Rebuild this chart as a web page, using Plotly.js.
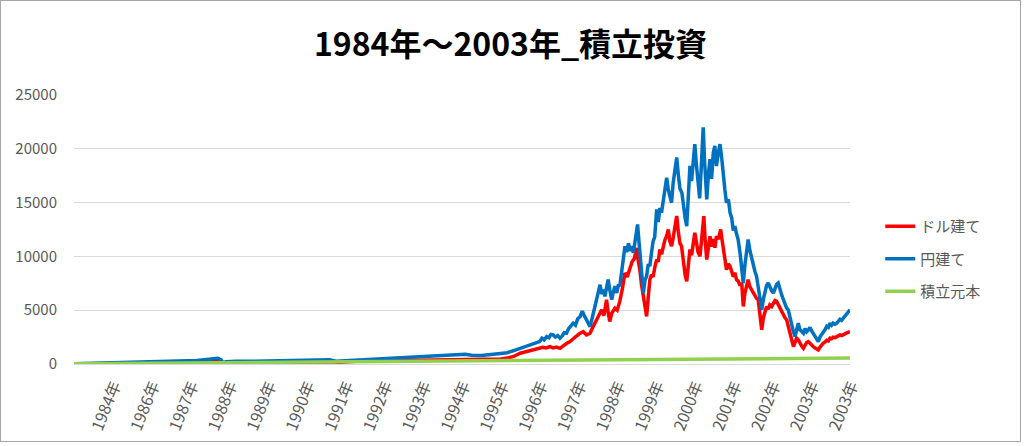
<!DOCTYPE html>
<html>
<head>
<meta charset="utf-8">
<script src="https://cdn.plot.ly/plotly-3.0.1.min.js"></script>
<style>
html,body{margin:0;padding:0;background:#fff;}
#frame{position:absolute;left:0;top:0;width:1019px;height:440px;border:1px solid #a6a6a6;}
#chart{width:1019px;height:440px;}
</style>
</head>
<body>
<div id="frame"><div id="chart"></div></div>
<script>
// tick labels (category axis labels shown every ~12 months)
const tickMonths = [12,24,36,48,60,72,84,96,108,120,132,144,156,168,180,192,204,216,228,240];
const tickLabels = ['1984年','1986年','1987年','1988年','1989年','1990年','1991年','1992年','1993年','1994年',
  '1995年','1996年','1997年','1998年','1999年','2000年','2001年','2002年','2003年','2003年'];

// 円建て (yen): [month index, value]
const yenSeries = [[0,20],[6,60],[12,110],[18,190],[21,230],[26,220],[30,260],[35,290],[38,330],[41,420],[43,500],[44.5,540],[45.5,380],[46,120],[47,200],[50,260],[55,250],[60,280],[62,340],[66,360],[68,400],[72,420],[76,380],[79,400],[81,250],[83,280],[86,380],[90,430],[94,480],[98,550],[102,570],[106,620],[110,700],[114,740],[118,790],[121,900],[123,820],[126,780],[129,880],[132,950],[134,1050],[136,1250],[138,1450],[140,1600],[142,1850],
[144,2080],[144.7,2400],[145.4,2250],[146.2,2550],[146.9,2450],[147.5,2750],[148.2,2700],[148.9,2500],[149.6,2650],[150.3,2400],[151,2600],[151.6,2900],[152.3,2860],[153,3300],[153.7,3500],[154.4,3790],[155.1,3600],[155.8,4200],[156.5,4400],[157.2,4900],[157.8,4500],[158.5,4100],[159.1,3600],[159.6,3480],[160.3,4300],[161.1,5350],[161.8,6100],[162.3,6900],[162.7,7370],[163.2,6500],[163.7,6900],[164.2,6280],[164.7,7300],[165.2,7840],[165.7,6900],[166.3,5970],[166.8,6700],[167.3,7220],[167.9,6600],[168.4,7400],[168.8,7220],[169.3,8300],[169.8,9600],[170.4,10950],[170.9,10400],[171.5,11200],[172,10500],[172.5,10950],[173,10330],[173.6,11600],[174.3,12970],[174.7,11500],[175.1,9800],[175.6,8000],[176.1,6590],[176.6,7800],[177.1,8150],[177.6,9300],[178.1,9100],[178.6,10330],[179.1,11400],[179.6,11800],[180.2,14370],[180.7,13200],[181.2,14500],[181.7,14060],[182.2,15200],[182.8,16100],[183.3,17320],[183.8,16200],[184.3,15600],[184.8,14990],[185.3,16800],[185.8,17900],[186.4,19190],[186.9,17600],[187.4,16300],[188,15920],[188.5,14400],[189,13600],[189.5,12810],[190,15800],[190.5,18410],[191,17000],[191.5,19200],[192,20430],[192.5,18500],[193,16400],[193.5,15400],[194,18300],[194.3,20100],[194.6,21990],[195,19000],[195.4,16600],[195.7,15300],[196.2,17600],[196.7,19030],[197.2,17200],[197.7,19600],[198.2,20280],[198.7,18400],[199.2,19500],[199.8,20430],[200.3,19200],[200.8,17480],[201.3,16200],[201.8,14990],[202.4,15300],[202.9,14060],[203.4,13600],[203.9,12400],[204.4,12810],[204.9,12100],[205.4,11570],[206,10300],[206.5,8900],[207,7530],[207.5,9200],[208,10500],[208.5,11570],[209,10600],[209.6,9700],[210.1,9100],[210.6,8600],[211.1,8150],[211.7,7000],[212.2,5900],[212.7,5040],[213.2,6000],[213.7,6700],[214.2,7300],[214.7,7530],[215.2,7100],[215.8,6800],[216.3,6590],[216.8,7100],[217.3,7400],[217.8,7530],[218.3,6900],[218.9,6400],[219.4,5970],[219.9,5500],[220.4,5200],[220.9,5040],[221.4,4300],[222,3700],[222.5,3000],[223,2550],[223.5,3300],[224,3790],[224.5,3200],[225,3000],[225.6,2860],[226.1,3300],[226.6,3000],[227.1,3170],[227.6,3400],[228.1,3100],[228.6,2860],[229.1,2500],[229.7,2300],[230.2,2080],[230.7,2500],[231.2,2700],[231.7,2860],[232.3,3200],[232.8,3500],[233.3,3400],[233.8,3790],[234.3,3600],[234.8,3800],[235.4,3700],[235.9,3790],[236.4,4000],[236.9,4150],[237.4,4050],[237.9,4260],[238.4,4400],[239,4600],[239.5,4800],[240,5040]];

// ドル建て (dollar): [month index, value]
const usdSeries = [[0,10],[12,40],[24,80],[36,150],[44,250],[45.5,120],[46,20],[48,100],[60,150],[70,200],[80,200],[82,150],[88,280],[95,310],[106,340],[115,400],[121,430],[124,380],[130,420],[132,460],[134,550],[136,700],[138,1000],[140,1150],[142,1250],
[144,1450],[145,1550],[146,1500],[147.2,1620],[148.2,1500],[149.2,1580],[150.3,1460],[151.3,1700],[152.3,1900],[153.4,2080],[154.4,2400],[155.4,2600],[156.5,2860],[157.5,3000],[158.5,2700],[159.6,2860],[160.6,3500],[161.6,4110],[162.4,4600],[163.2,5040],[163.9,4500],[164.4,5300],[164.7,5970],[165.2,4800],[165.7,3950],[166.3,4700],[166.8,4900],[167.3,5190],[168,5000],[168.8,5820],[169.6,7000],[170.4,8460],[171.1,8100],[171.9,8770],[172.6,9500],[173.3,9800],[174,10790],[174.5,9600],[175,8770],[175.5,7400],[176.1,6280],[176.6,5300],[177.1,4420],[177.6,6200],[178.1,7840],[178.6,8300],[179.1,8100],[179.7,9080],[180.2,9700],[180.7,9500],[181.2,10640],[181.7,10200],[182.2,11000],[182.8,11570],[183.3,11900],[183.8,12500],[184.3,11400],[184.8,10950],[185.3,11700],[185.8,12600],[186.4,13750],[186.9,12300],[187.4,11200],[187.9,10950],[188.5,9400],[189,8300],[189.5,7680],[190,9300],[190.5,10640],[191,10100],[191.5,11200],[192,12190],[192.5,11300],[193,10400],[193.6,10010],[194.2,11800],[194.8,13750],[195.2,11500],[195.7,9700],[196.2,10800],[196.7,11880],[197.2,10900],[197.7,11600],[198.2,10800],[198.7,11880],[199.3,11600],[200,12500],[200.4,11600],[200.8,10640],[201.3,9600],[201.8,8770],[202.4,9300],[202.9,9080],[203.4,8600],[203.9,8100],[204.4,8500],[204.9,7840],[205.4,7700],[206,7300],[206.5,7530],[207,5350],[207.5,6600],[208,7400],[208.5,7840],[209,7200],[209.6,6900],[210.1,6590],[210.6,6300],[211.1,6100],[211.6,5970],[212.2,4600],[212.7,3170],[213.2,4300],[213.7,5000],[214.2,5350],[214.7,5100],[215.2,5500],[215.8,5350],[216.3,5600],[216.8,5900],[217.3,5820],[217.8,5500],[218.3,5200],[218.9,4880],[219.4,4500],[219.9,4300],[220.4,4110],[221,3400],[221.5,2600],[222,2000],[222.5,1620],[223,2000],[223.5,2400],[224,2240],[224.5,1900],[225,1700],[225.6,1460],[226.1,1800],[226.6,2000],[227.1,2080],[227.6,1900],[228.1,1700],[228.6,1620],[229.1,1500],[229.7,1400],[230.2,1310],[230.7,1550],[231.2,1750],[231.7,1930],[232.3,2050],[232.8,2200],[233.3,2150],[233.8,2400],[234.3,2350],[234.8,2500],[235.4,2450],[235.9,2550],[236.4,2600],[236.9,2700],[237.4,2650],[237.9,2700],[238.4,2800],[239,2900],[239.5,2950],[240,3020]];

// 積立元本 (principal): [month index, value]
const principalSeries = [[0,20],[12,45],[24,70],[36,95],[48,120],[60,150],[72,175],[84,200],[96,225],[108,250],[120,280],[132,305],[144,330],[156,355],[168,380],[180,410],[192,435],[204,460],[216,490],[228,520],[240,550]];

const seriesNames = ['ドル建て','円建て','積立元本'];
const seriesColors = ['#FF0000','#0070C0','#92D050'];

const FONT = '"Noto Sans CJK JP", "Noto Sans", sans-serif';

const traces = [usdSeries, yenSeries, principalSeries].map((s,i)=>({
  type:'scatter', mode:'lines', name:seriesNames[i], legendgroup:'g'+i,
  x:s.map(p=>p[0]), y:s.map(p=>p[1]),
  line:{color:seriesColors[i], width:3.5}, hoverinfo:'skip'
}));

const layout = {
  width:1019, height:440,
  margin:{l:73, r:170, t:94, b:77},
  paper_bgcolor:'#fff', plot_bgcolor:'#fff',
  title:{text:'1984年～2003年_積立投資', font:{family:FONT, size:32, color:'#000', weight:'bold'}, x:0.5, xanchor:'center', y:0.9, yanchor:'middle'},
  xaxis:{range:[0,240], tickvals:tickMonths, ticktext:tickLabels, tickangle:-68,
    tickfont:{family:FONT, size:16, color:'#595959'}, showgrid:false, zeroline:false,
    showline:true, linecolor:'#d9d9d9', linewidth:1, ticks:'', ticklabelstandoff:5, ticklabelshift:1, fixedrange:true},
  yaxis:{range:[0,25000], dtick:5000, tickformat:'d', tickfont:{family:FONT, size:15, color:'#595959'},
    gridcolor:'#d9d9d9', gridwidth:1, zeroline:false, showline:false, ticks:'', ticklabelstandoff:16, fixedrange:true},
  legend:{x:1.039, xanchor:'left', y:0.39, yanchor:'middle', font:{family:FONT, size:15, color:'#595959'},
    tracegroupgap:10, bgcolor:'rgba(0,0,0,0)'},
  showlegend:true
};

Plotly.newPlot('chart', traces, layout, {displayModeBar:false, staticPlot:true});
</script>
</body>
</html>
